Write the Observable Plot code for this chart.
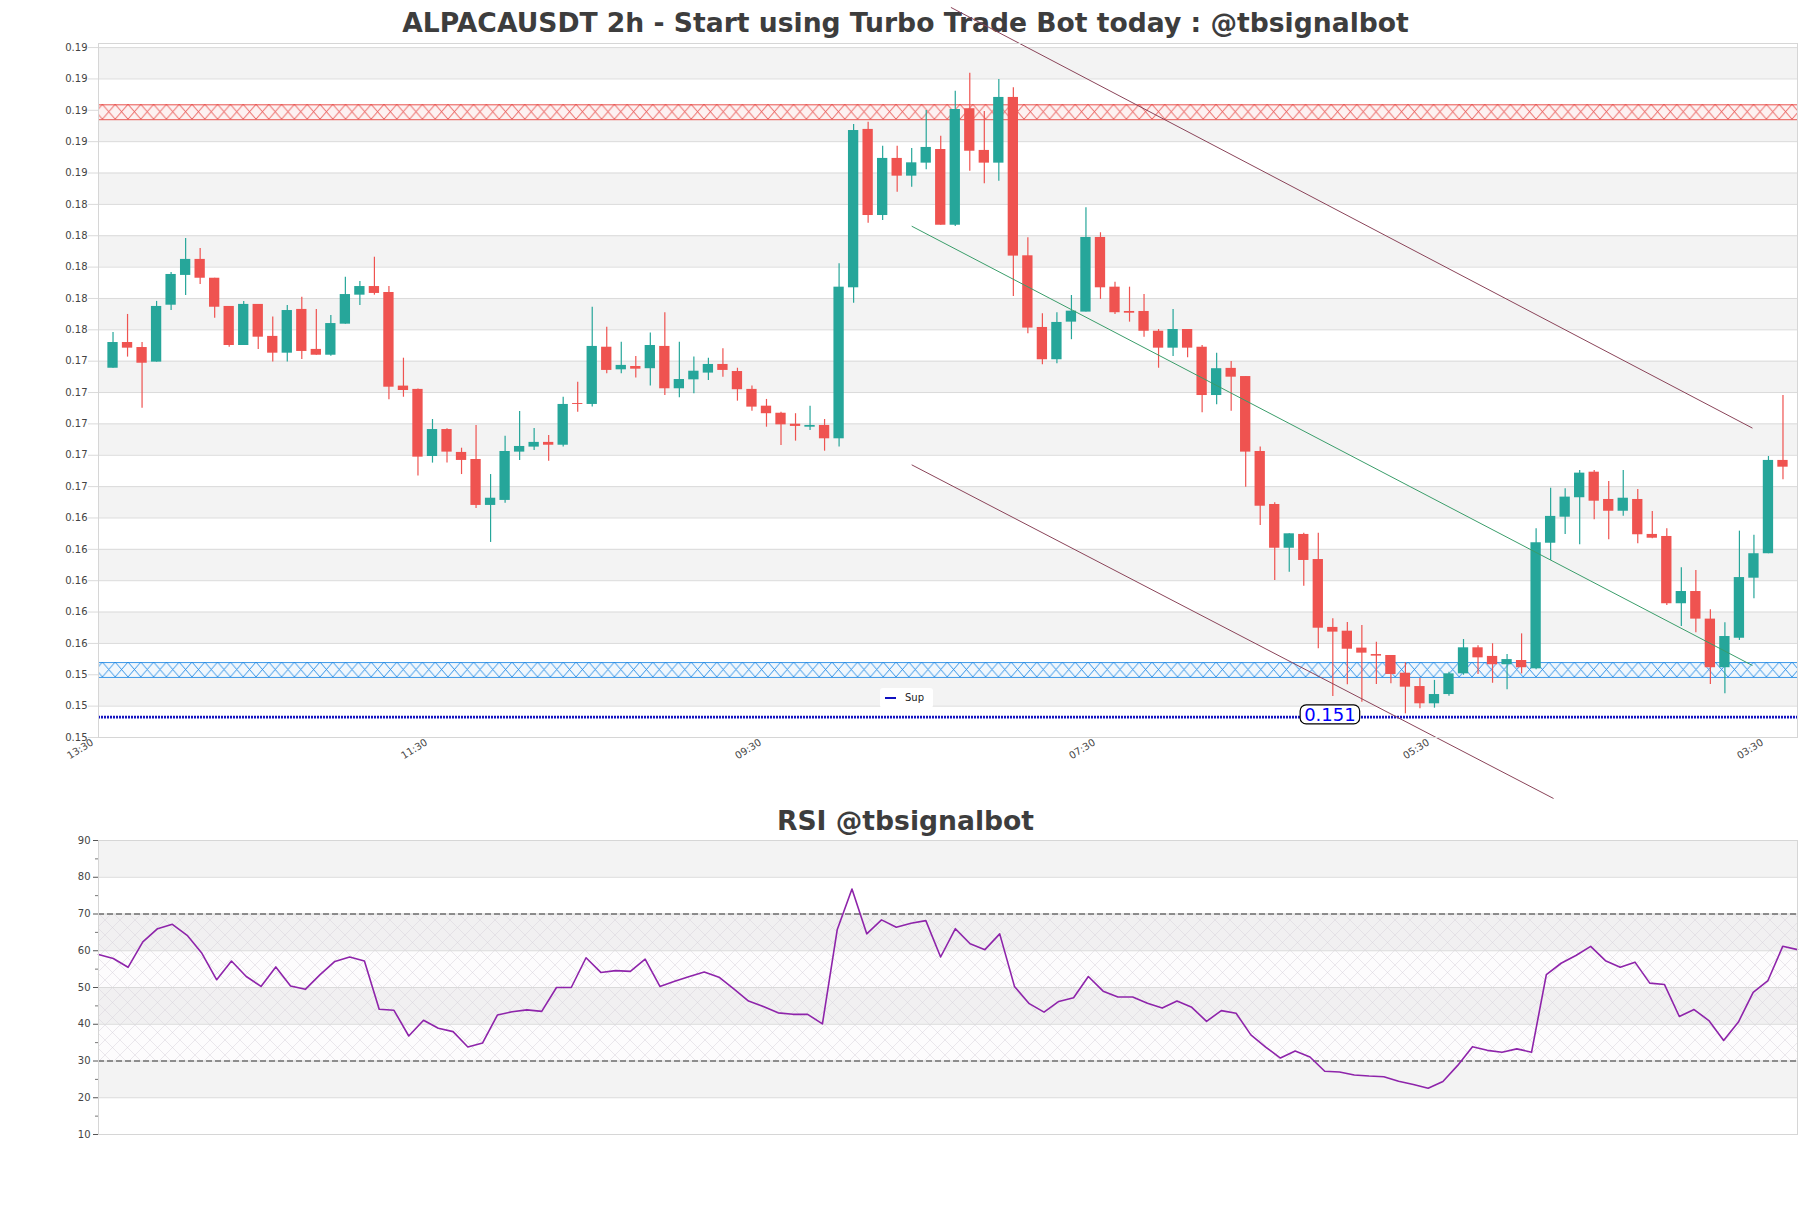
<!DOCTYPE html>
<html><head><meta charset="utf-8">
<script src="https://cdn.jsdelivr.net/npm/d3@7"></script>
<script src="https://cdn.jsdelivr.net/npm/@observablehq/plot@0.6"></script>
<style>
body{margin:0;background:#fff;}
#root{position:relative;width:1811px;height:1208px;background:#fff;font-family:"DejaVu Sans",sans-serif;overflow:hidden}
.title{position:absolute;left:0;width:1811px;text-align:center;font-weight:bold;font-size:26.6px;line-height:26px;color:#3d3d3d;font-family:"DejaVu Sans"}
.panel{position:absolute;left:0}
#legend{position:absolute;left:880px;top:688px;width:53px;height:20px;background:#fff;border-radius:3px;font-family:"DejaVu Sans";font-size:10px;color:#222}
#legend .ln{position:absolute;left:5px;top:9px;width:11px;height:2px;background:#1010c0}
#legend .tx{position:absolute;left:25px;top:0;line-height:20px}
</style></head>
<body>
<div id="root">
 <div class="title" style="top:10px">ALPACAUSDT 2h - Start using Turbo Trade Bot today : @tbsignalbot</div>
 <div class="title" style="top:808px">RSI @tbsignalbot</div>
 <div id="main" class="panel" style="top:0"></div>
 <div id="rsi" class="panel" style="top:800px"></div>
 <div id="legend"><span class="ln"></span><span class="tx">Sup</span></div>
</div>
<script>
// ---------- data ----------
const open = [
0.17355,0.17519,0.17487,0.17394,0.17757,0.17947,0.18049,0.17929,0.17749,0.17500,
0.17762,0.17558,0.17451,0.17730,0.17475,0.17438,0.17636,0.17821,0.17876,0.17838,
0.17241,0.17220,0.16792,0.16964,0.16818,0.16773,0.16480,0.16512,0.16820,0.16852,
0.16882,0.16864,0.17130,0.17124,0.17489,0.17345,0.17366,0.17352,0.17494,0.17224,
0.17281,0.17324,0.17379,0.17334,0.17220,0.17113,0.17068,0.16998,0.16979,0.16990,
0.16905,0.17868,0.18878,0.18329,0.18693,0.18580,0.18663,0.18750,0.18267,0.19010,
0.18744,0.18663,0.19082,0.18072,0.17615,0.17409,0.17649,0.17713,0.18189,0.17872,
0.17717,0.17717,0.17591,0.17483,0.17602,0.17489,0.17181,0.17354,0.17302,0.16824,
0.16486,0.16207,0.16295,0.16135,0.15702,0.15678,0.15570,0.15529,0.15523,0.15410,
0.15325,0.15215,0.15274,0.15406,0.15572,0.15517,0.15464,0.15491,0.15438,0.16239,
0.16405,0.16529,0.16692,0.16518,0.16443,0.16518,0.16295,0.16282,0.15853,0.15931,
0.15755,0.15445,0.15633,0.16016,0.16172,0.16767];
const close = [
0.17519,0.17483,0.17387,0.17749,0.17953,0.18049,0.17929,0.17744,0.17500,0.17762,
0.17553,0.17451,0.17723,0.17462,0.17438,0.17640,0.17825,0.17876,0.17832,0.17234,
0.17213,0.16788,0.16964,0.16820,0.16767,0.16480,0.16526,0.16824,0.16856,0.16882,
0.16864,0.17124,0.17124,0.17494,0.17341,0.17373,0.17349,0.17500,0.17224,0.17283,
0.17336,0.17379,0.17341,0.17218,0.17107,0.17065,0.16994,0.16984,0.16990,0.16905,
0.17872,0.18871,0.18329,0.18693,0.18580,0.18665,0.18763,0.18267,0.19005,0.18739,
0.18663,0.19082,0.18070,0.17611,0.17409,0.17647,0.17719,0.18189,0.17868,0.17709,
0.17706,0.17591,0.17483,0.17602,0.17483,0.17181,0.17352,0.17298,0.16820,0.16475,
0.16207,0.16299,0.16129,0.15697,0.15672,0.15563,0.15538,0.15519,0.15402,0.15321,
0.15215,0.15274,0.15406,0.15572,0.15508,0.15464,0.15497,0.15445,0.16242,0.16410,
0.16533,0.16686,0.16507,0.16443,0.16526,0.16293,0.16271,0.15853,0.15931,0.15755,
0.15445,0.15644,0.16020,0.16172,0.16767,0.16724];
const high = [
0.17583,0.17698,0.17519,0.17781,0.17966,0.18183,0.18119,0.17929,0.17749,0.17781,
0.17762,0.17681,0.17755,0.17808,0.17730,0.17692,0.17936,0.17908,0.18063,0.17876,
0.17419,0.17222,0.17028,0.16969,0.16845,0.16990,0.16677,0.16922,0.17079,0.16971,
0.16926,0.17170,0.17266,0.17744,0.17617,0.17521,0.17430,0.17579,0.17709,0.17521,
0.17426,0.17419,0.17479,0.17355,0.17241,0.17156,0.17075,0.17065,0.17113,0.17028,
0.18021,0.18910,0.18924,0.18771,0.18771,0.18757,0.18999,0.18835,0.19122,0.19237,
0.18993,0.19197,0.19144,0.18187,0.17702,0.17709,0.17819,0.18378,0.18219,0.17904,
0.17872,0.17825,0.17602,0.17730,0.17602,0.17500,0.17451,0.17398,0.17302,0.16852,
0.16497,0.16299,0.16303,0.16303,0.15757,0.15733,0.15714,0.15608,0.15523,0.15476,
0.15378,0.15364,0.15416,0.15625,0.15585,0.15598,0.15529,0.15661,0.16331,0.16590,
0.16586,0.16703,0.16703,0.16633,0.16703,0.16582,0.16441,0.16331,0.16082,0.16065,
0.15814,0.15732,0.16316,0.16290,0.16792,0.17181];
const low = [
0.17355,0.17426,0.17100,0.17394,0.17723,0.17819,0.17889,0.17674,0.17489,0.17500,
0.17475,0.17394,0.17394,0.17411,0.17438,0.17432,0.17636,0.17755,0.17821,0.17154,
0.17170,0.16667,0.16750,0.16750,0.16677,0.16461,0.16244,0.16494,0.16767,0.16830,
0.16762,0.16852,0.17075,0.17107,0.17320,0.17320,0.17292,0.17241,0.17181,0.17167,
0.17192,0.17277,0.17298,0.17145,0.17081,0.16979,0.16862,0.16890,0.16958,0.16826,
0.16852,0.17770,0.18280,0.18297,0.18478,0.18510,0.18621,0.18267,0.18259,0.18612,
0.18531,0.18548,0.17813,0.17575,0.17377,0.17383,0.17537,0.17713,0.17794,0.17698,
0.17649,0.17553,0.17355,0.17430,0.17422,0.17071,0.17122,0.17081,0.16596,0.16352,
0.16001,0.16054,0.15965,0.15566,0.15262,0.15336,0.15225,0.15338,0.15343,0.15151,
0.15183,0.15187,0.15263,0.15397,0.15402,0.15346,0.15304,0.15406,0.15432,0.16129,
0.16295,0.16229,0.16389,0.16261,0.16411,0.16235,0.16267,0.15842,0.15708,0.15668,
0.15338,0.15279,0.15619,0.15885,0.16172,0.16644];
const rsi = [
59.0,57.9,55.5,62.4,66.0,67.2,64.2,59.3,52.1,57.2,
53.0,50.3,55.6,50.4,49.5,53.5,57.1,58.3,57.2,44.1,
43.8,36.8,41.1,38.9,38.0,33.8,34.9,42.5,43.4,43.9,
43.5,50.0,50.0,58.1,54.1,54.6,54.4,57.7,50.3,51.7,
53.0,54.2,52.8,49.6,46.3,44.8,43.1,42.7,42.7,40.1,
65.7,76.8,64.6,68.4,66.4,67.5,68.2,58.3,66.0,61.9,
60.3,64.6,50.3,45.6,43.3,46.2,47.2,53.0,49.0,47.4,
47.4,45.7,44.4,46.3,44.6,40.8,43.7,43.0,37.1,33.8,
30.8,32.7,31.1,27.2,27.0,26.2,25.9,25.7,24.5,23.6,
22.6,24.4,28.8,33.9,32.9,32.4,33.3,32.4,53.5,56.6,
58.7,61.2,57.3,55.5,56.9,51.2,50.8,42.1,44.0,41.0,
35.6,40.6,48.7,51.9,61.2,60.3];
const priceTicks = [0.150,0.152,0.154,0.156,0.158,0.160,0.162,0.164,0.166,0.168,0.170,0.172,
  0.174,0.176,0.178,0.180,0.182,0.184,0.186,0.188,0.190,0.192,0.194];
const xTickIndex = [-1, 22, 45, 68, 91, 114];
const xTickLabel = ["13:30","11:30","09:30","07:30","05:30","03:30"];
const rsiTicks = [10,20,30,40,50,60,70,80,90];
const rsiMinorTicks = [15,25,35,45,55,65,75,85];
const rsiLevels = [30, 70];
const resistanceZone = {lo: 0.18940, hi: 0.19035};
const supportZone = {lo: 0.15383, hi: 0.15478};
const supLevel = 0.1513;
const supLabel = {index: 83.8, price: 0.1513, text: "0.151"};
const trendLines = [
  {name: "upper", i1: 57.7, p1: 0.19656, i2: 112.9, p2: 0.16973},
  {name: "lower", i1: 55.0, p1: 0.16739, i2: 99.2, p2: 0.14611},
  {name: "mid",   i1: 55.0, p1: 0.18261, i2: 112.9, p2: 0.15459}
];

// ---------- derived tables ----------
const candles = open.map((o, i) => ({i, o, c: close[i], h: high[i], l: low[i], up: close[i] >= o}));
const priceBands = priceTicks.slice(0, -1).map((lo, k) => ({lo, hi: priceTicks[k + 1], k})).filter(d => d.k % 2 === 1);
const rsiBands = rsiTicks.slice(0, -1).map((lo, k) => ({lo, hi: rsiTicks[k + 1], k})).filter(d => d.k % 2 === 1);
const rsiPts = rsi.map((v, i) => ({i, v}));
const xLabel = new Map(xTickIndex.map((d, k) => [d, xTickLabel[k]]));

const GREEN = "#26a69a", RED = "#ef5350";
const BODY_HALF = 0.355;
const trendColor = {upper: "#8a4459", lower: "#8a4459", mid: "#3a9d6a"};

// ---------- main chart ----------
const mainPlot = Plot.plot({
  width: 1811, height: 800,
  marginTop: 43, marginBottom: 63, marginLeft: 98, marginRight: 14,
  style: {background: "transparent", fontFamily: "DejaVu Sans", fontSize: "10px", overflow: "visible"},
  x: {domain: [-1, 116], axis: null},
  y: {domain: [0.150, 0.19426], axis: null},
  marks: [
    Plot.rect(priceBands, {y1: "lo", y2: "hi", fill: "#f3f3f3"}),
    Plot.ruleY(priceTicks, {stroke: "#dadada", strokeWidth: 1}),
    Plot.rect([resistanceZone], {y1: "lo", y2: "hi", fill: "url(#hatchRed)"}),
    Plot.ruleY([resistanceZone.lo, resistanceZone.hi], {stroke: "#e53935", strokeWidth: 1, strokeOpacity: 0.85}),
    Plot.rect([supportZone], {y1: "lo", y2: "hi", fill: "url(#hatchBlue)"}),
    Plot.ruleY([supportZone.lo, supportZone.hi], {stroke: "#1e88e5", strokeWidth: 1, strokeOpacity: 0.85}),
    Plot.ruleY([supLevel], {stroke: "#1414c0", strokeWidth: 2.8, strokeDasharray: "2 1"}),
    Plot.ruleX(candles, {x: "i", y1: "l", y2: "h", stroke: d => d.up ? GREEN : RED, strokeWidth: 1.2}),
    Plot.rect(candles, {x1: d => d.i - BODY_HALF, x2: d => d.i + BODY_HALF, y1: "o", y2: "c", fill: d => d.up ? GREEN : RED}),
    Plot.link(trendLines, {x1: "i1", y1: "p1", x2: "i2", y2: "p2", stroke: d => trendColor[d.name], strokeWidth: 1}),
    Plot.text([supLabel], {x: "index", y: "price", text: "text", fill: "#0000ff", fontSize: 18, dy: -2}),
    Plot.axisY(priceTicks, {tickFormat: d => d.toFixed(2), tickSize: 10, tickPadding: 1, fontSize: 10, stroke: "#dadada", fill: "#444"}),
    Plot.axisX(xTickIndex, {tickFormat: d => xLabel.get(d), tickRotate: -32, tickSize: 0, tickPadding: 4, fontSize: 10, fill: "#444", dx: -6}),
    Plot.frame({stroke: "#d6d6d6"})
  ]
});
document.getElementById("main").appendChild(mainPlot);

// patterns for zones
{
  const ys = mainPlot.scale("y");
  const svg = d3.select(mainPlot);
  const defs = svg.insert("defs", ":first-child");
  const mk = (id, zone, color, tint) => {
    const top = ys.apply(zone.hi), bot = ys.apply(zone.lo);
    const h = bot - top, w = 12.8;
    const p = defs.append("pattern").attr("id", id).attr("patternUnits", "userSpaceOnUse")
      .attr("x", 0).attr("y", top).attr("width", w).attr("height", h);
    p.append("rect").attr("width", w).attr("height", h).attr("fill", tint);
    p.append("path").attr("d", `M0,0L${w},${h}M${w},0L0,${h}`).attr("stroke", color).attr("stroke-width", 0.9).attr("fill", "none");
  };
  mk("hatchRed", resistanceZone, "#e53935", "#fdf1f1");
  mk("hatchBlue", supportZone, "#1e88e5", "#f0f7fd");
  // rounded box behind the support label
  svg.selectAll("text").filter(function() { return this.textContent === supLabel.text; }).each(function() {
    const b = this.getBBox();
    d3.select(this.parentNode).insert("rect", () => this)
      .attr("transform", this.getAttribute("transform"))
      .attr("x", b.x - 4).attr("y", b.y + 1).attr("width", b.width + 8).attr("height", b.height - 2)
      .attr("rx", 6).attr("fill", "#fff").attr("stroke", "#000").attr("stroke-width", 1.2);
  });
}

// ---------- RSI chart ----------
const rsiPlot = Plot.plot({
  width: 1811, height: 408,
  marginTop: 40, marginBottom: 74, marginLeft: 98, marginRight: 14,
  style: {background: "transparent", fontFamily: "DejaVu Sans", fontSize: "10px"},
  x: {domain: [0, 115], axis: null},
  y: {domain: [10, 90], axis: null},
  marks: [
    Plot.rect(rsiBands, {y1: "lo", y2: "hi", fill: "#f3f3f3"}),
    Plot.rect([{lo: rsiLevels[0], hi: rsiLevels[1]}], {y1: "lo", y2: "hi", fill: "url(#hatchPurple)"}),
    Plot.ruleY(rsiTicks, {stroke: "#dadada"}),
    Plot.ruleY(rsiLevels, {stroke: "#333", strokeWidth: 1.2, strokeDasharray: "6 3"}),
    Plot.line(rsiPts, {x: "i", y: "v", stroke: "#8e24aa", strokeWidth: 1.6}),
    Plot.axisY(rsiTicks, {tickSize: 5, tickPadding: 3, fontSize: 10, stroke: "#555", fill: "#444"}),
    Plot.axisY(rsiMinorTicks, {tickSize: 3, text: null, stroke: "#777"}),
    Plot.frame({stroke: "#d6d6d6"})
  ]
});
document.getElementById("rsi").appendChild(rsiPlot);
{
  const svg = d3.select(rsiPlot);
  const defs = svg.insert("defs", ":first-child");
  const w = 15, h = 15;
  const p = defs.append("pattern").attr("id", "hatchPurple").attr("patternUnits", "userSpaceOnUse")
    .attr("width", w).attr("height", h);
  p.append("rect").attr("width", w).attr("height", h).attr("fill", "#b89cc8").attr("fill-opacity", 0.03);
  p.append("path").attr("d", `M0,0L${w},${h}M${w},0L0,${h}`).attr("stroke", "#d6d0da").attr("stroke-width", 0.5).attr("fill", "none");
}
</script>
</body></html>
